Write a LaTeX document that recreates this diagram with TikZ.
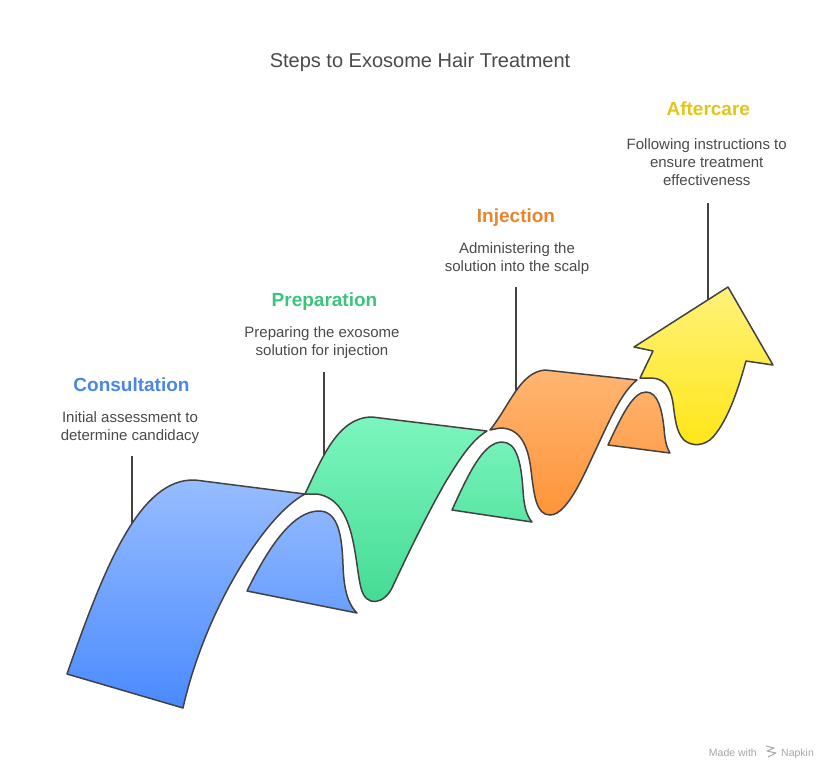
\documentclass[tikz,border=0pt]{standalone}
\usepackage{fontspec}
\setmainfont{Liberation Sans}
\usepackage{xcolor}
\definecolor{edge}{HTML}{424242}
\definecolor{bluetop}{HTML}{98BDFF}
\definecolor{bluebot}{HTML}{4A8AFF}
\definecolor{greentop}{HTML}{7CF6BE}
\definecolor{greenbot}{HTML}{43DA93}
\definecolor{orangetop}{HTML}{FFB572}
\definecolor{orangebot}{HTML}{FF9439}
\definecolor{yellowtop}{HTML}{FFF27A}
\definecolor{yellowbot}{HTML}{FFE617}
\definecolor{bluetext}{HTML}{4A86E8}
\definecolor{greentext}{HTML}{3CC47D}
\definecolor{orangetext}{HTML}{E8852C}
\definecolor{yellowtext}{HTML}{E2C51B}
\definecolor{bodytext}{HTML}{4A4A4A}
\definecolor{marktext}{HTML}{A6A6A6}

\begin{document}
\begin{tikzpicture}[x=1pt,y=-1pt,
  ribbon/.style={draw=edge,line width=1.5pt,line join=round},
  leader/.style={draw=edge,line width=1.5pt},
  heading/.style={font=\fontsize{19}{22}\selectfont\bfseries,anchor=base,inner sep=0pt},
  blurb/.style={font=\fontsize{15}{18}\selectfont,text=bodytext,align=center,anchor=north,inner sep=0pt}]
\useasboundingbox (0,0) rectangle (840,780);

\node[font=\fontsize{20}{24}\selectfont,text=bodytext,anchor=base,inner sep=0pt] (title) at (420,67) {Steps to Exosome Hair Treatment};

\node[heading,text=bluetext] (consulthead) at (131.5,391) {Consultation};
\node[blurb] (consulttext) at (130,411) {Initial assessment to\\determine candidacy};
\node[heading,text=greentext] (prephead) at (324.5,306) {Preparation};
\node[blurb] (preptext) at (322,326.5) {Preparing the exosome\\solution for injection};
\node[heading,text=orangetext] (injecthead) at (516,222.7) {Injection};
\node[blurb] (injecttext) at (517,242.5) {Administering the\\solution into the scalp};
\node[heading,text=yellowtext] (carehead) at (708.3,115) {Aftercare};
\node[blurb] (caretext) at (706.7,138.5) {Following instructions to\\ensure treatment\\effectiveness};

\coordinate (consulttop) at (132,456);
\coordinate (consultfoot) at (132,530);
\coordinate (preptop) at (324,372);
\coordinate (prepfoot) at (324,460);
\coordinate (injecttop) at (516,287);
\coordinate (injectfoot) at (516,395);
\coordinate (caretop) at (708,203);
\coordinate (carefoot) at (708,303);
\draw[leader] (consulttop) -- (consultfoot);
\draw[leader] (preptop) -- (prepfoot);
\draw[leader] (injecttop) -- (injectfoot);
\draw[leader] (caretop) -- (carefoot);

\draw[ribbon,top color=yellowtop,bottom color=yellowbot] (640,378) -- (653,351) -- (634,347) -- (728,287) -- (773,365) -- (746,361)
  .. controls (738,390) and (728,420) .. (713,437) .. controls (705,446) and (692,447) .. (684,440)
  .. controls (676,432) and (675,418) .. (673,403) .. controls (670,385) and (663,378) .. (650,378) -- cycle;

\draw[ribbon,top color=orangetop,bottom color=orangebot] (490,430) .. controls (510,405) and (520,372) .. (545,370) -- (637,380)
  .. controls (622,392) and (612,415) .. (597,447) .. controls (585,472) and (568,515) .. (550,515)
  .. controls (536,515) and (534,495) .. (531,470) .. controls (528,445) and (520,428) .. (500,428) -- cycle;
\draw[ribbon,top color=orangetop!85!orangebot,bottom color=orangetop!43!orangebot] (608,445) .. controls (622,415) and (633,392) .. (646,392)
  .. controls (658,392) and (662,410) .. (664,428) .. controls (665,442) and (667,448) .. (670,453) -- cycle;

\draw[ribbon,top color=greentop,bottom color=greenbot] (305,494) .. controls (322,458) and (338,417) .. (372,417) -- (487,431)
  .. controls (472,440) and (460,458) .. (445,483) .. controls (425,518) and (405,560) .. (392,588)
  .. controls (384,604) and (366,608) .. (361,588) .. controls (354,560) and (356,500) .. (317,494) -- cycle;
\draw[ribbon,top color=greentop!86!greenbot,bottom color=greentop!43!greenbot] (452,510) .. controls (468,475) and (483,442) .. (502,442)
  .. controls (516,442) and (521,460) .. (523,490) .. controls (524,508) and (527,516) .. (532,522) -- cycle;

\draw[ribbon,top color=bluetop,bottom color=bluebot] (67,674) .. controls (105,565) and (140,478) .. (195,480) -- (305,494)
  .. controls (265,515) and (205,610) .. (183,708) -- cycle;
\draw[ribbon,top color=bluetop!86!bluebot,bottom color=bluetop!42!bluebot] (247,591) .. controls (268,548) and (293,510) .. (320,511)
  .. controls (338,512) and (342,535) .. (343,565) .. controls (344,595) and (350,606) .. (357,613) -- cycle;

\node[font=\fontsize{10.5}{12}\selectfont,text=marktext,anchor=base east,inner sep=0pt] (madewith) at (757,756) {Made with};
\node[font=\fontsize{10.5}{12}\selectfont,text=marktext,anchor=base west,inner sep=0pt] (napkin) at (781,756) {Napkin};
\draw[marktext,line width=1pt,line join=round] (766,746) -- (774,748) -- (767,751) -- (776,753) -- (768,757);
\end{tikzpicture}
\end{document}
